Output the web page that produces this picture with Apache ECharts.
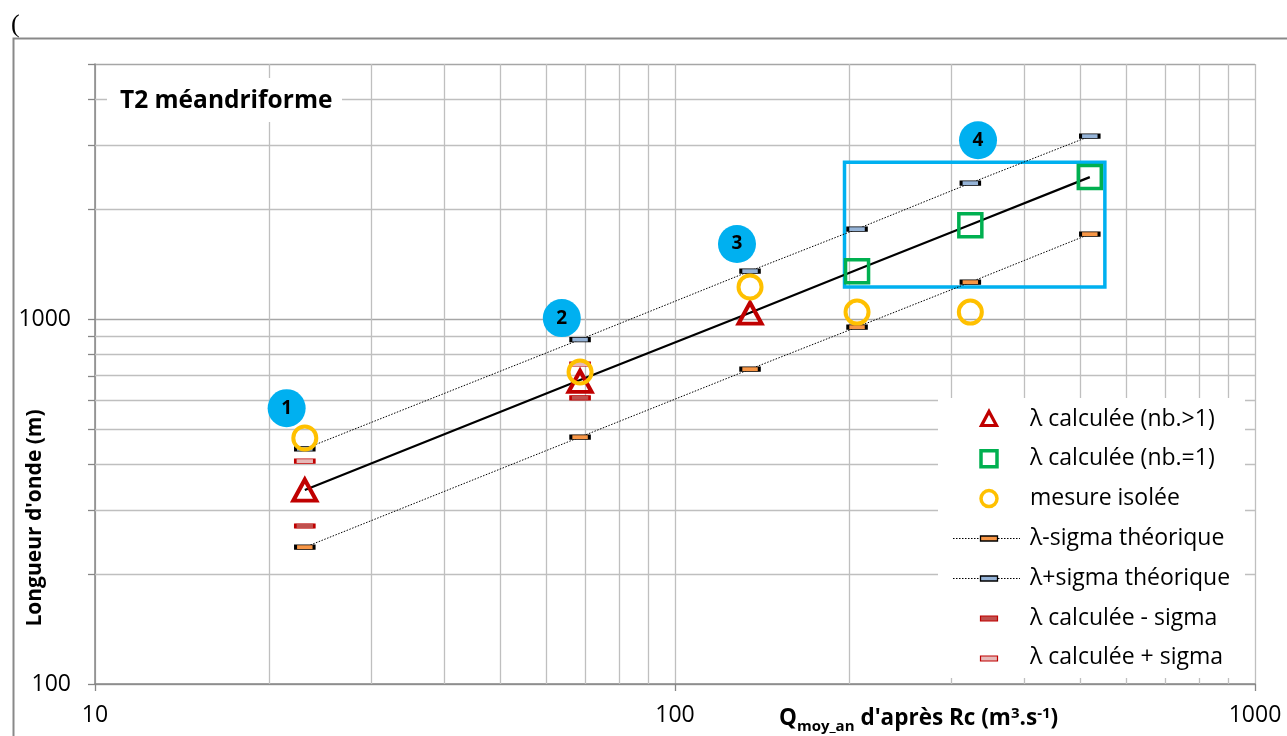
<!DOCTYPE html>
<html>
<head>
<meta charset="utf-8">
<script src="https://cdn.jsdelivr.net/npm/echarts@6/dist/echarts.min.js"></script>
<style>html,body{margin:0;padding:0;background:#fff;}#c{width:1287px;height:736px;}</style>
</head>
<body>
<div id="c"></div>
<script>
// ---------- data ----------
const xPts = [23.0, 68.6, 134.7, 206, 323, 519];
const lambdaFit = [340, 681, 1041, 1365, 1813, 2449];
const lambdaMinusSigmaTh = [237, 475, 729, 951, 1262, 1710];
const lambdaPlusSigmaTh = [441, 879, 1354, 1765, 2358, 3170];
const calcX = [23.0, 68.6];
const calcMinusSigma = [271, 608];
const calcPlusSigma = [408, 753];
const triX = [23.0, 68.6, 134.7];
const triY = [340, 675, 1038];
const sqX = [206, 323, 519];
const sqY = [1353, 1809, 2449];
const circX = [23.0, 68.6, 134.7, 206, 323];
const circY = [472, 716, 1224, 1045, 1045];
const badgeLabels = ['1', '2', '3', '4'];
const badgeX = [21.4, 63.8, 127.9, 333];
const badgeY = [570, 1006, 1606, 3090];
const box4X = [196, 551];
const box4Y = [1224, 2692];
const yMinorGrid = [200, 300, 400, 500, 600, 700, 800, 900, 2000, 3000, 4000];
const xMinorGrid = [20, 30, 40, 50, 60, 70, 80, 90, 200, 300, 400, 500, 600, 700, 800, 900];
const yTickLabels = [100, 1000];
const xTickLabels = [10, 100, 1000];
const legendNames = ['λ calculée (nb.>1)', 'λ calculée (nb.=1)', 'mesure isolée',
  'λ-sigma théorique', 'λ+sigma théorique', 'λ calculée - sigma', 'λ calculée + sigma'];
const titleText = 'T2 méandriforme';
const yName = "Longueur d'onde (m)";

// ---------- chart ----------
const pairs = (xs, ys) => xs.map((x, i) => [x, ys[i]]);
const GRID = '#bfbfbf';
const AXIS = '#868686';
const chart = echarts.init(document.getElementById('c'), null, {renderer: 'canvas'});

const option = {
  animation: false,
  backgroundColor: '#fff',
  grid: {left: 95, top: 64, right: 32, bottom: 52},
  xAxis: {
    type: 'log', logBase: 10, min: 10, max: 1000,
    axisLine: {lineStyle: {color: AXIS, width: 1.5}},
    axisTick: {length: 7, lineStyle: {color: AXIS, width: 1.3}},
    axisLabel: {margin: 20, fontFamily: 'Open Sans', fontSize: 23, color: '#000',
      formatter: v => xTickLabels.includes(Math.round(v)) ? String(Math.round(v)) : ''},
    splitLine: {show: true, lineStyle: {color: GRID, width: 1.3}}
  },
  yAxis: {
    type: 'log', logBase: 10, min: 100, max: 5000,
    axisLine: {lineStyle: {color: AXIS, width: 1.5}},
    axisTick: {length: 7, lineStyle: {color: AXIS, width: 1.3}},
    axisLabel: {margin: 24, fontFamily: 'Open Sans', fontSize: 23, color: '#000',
      formatter: v => yTickLabels.includes(Math.round(v)) ? String(Math.round(v)) : ''},
    splitLine: {show: true, lineStyle: {color: '#a6a6a6', width: 1.3}}
  },
  series: [
    {
      name: 'λ', type: 'line', data: pairs(xPts, lambdaFit), symbol: 'none',
      lineStyle: {color: '#000', width: 2.2}, z: 3, silent: true,
      markLine: {
        silent: true, z: 1, symbol: ['none', 'none'], label: {show: false},
        lineStyle: {color: GRID, width: 1.3, type: 'solid'},
        emphasis: {disabled: true},
        data: yMinorGrid.map(v => ({yAxis: v})).concat(xMinorGrid.map(v => ({xAxis: v})))
      },
      markArea: {
        silent: true, z: 2,
        itemStyle: {color: 'rgba(0,0,0,0)', borderColor: '#00b0f0', borderWidth: 3.5},
        data: [[{coord: [box4X[0], box4Y[1]]}, {coord: [box4X[1], box4Y[0]]}]]
      }
    },
    {
      name: legendNames[3], type: 'line', data: pairs(xPts, lambdaMinusSigmaTh),
      symbol: 'rect', symbolSize: [18.5, 4.5], showSymbol: true, z: 4,
      lineStyle: {color: '#000', width: 1, type: [1.5, 1.5]},
      itemStyle: {color: '#f79646', borderColor: '#000', borderWidth: 1.5, opacity: 1}
    },
    {
      name: legendNames[4], type: 'line', data: pairs(xPts, lambdaPlusSigmaTh),
      symbol: 'rect', symbolSize: [18.5, 4.5], showSymbol: true, z: 4,
      lineStyle: {color: '#000', width: 1, type: [1.5, 1.5]},
      itemStyle: {color: '#95b3d7', borderColor: '#000', borderWidth: 1.5, opacity: 1}
    },
    {
      name: legendNames[5], type: 'scatter', data: pairs(calcX, calcMinusSigma),
      symbol: 'rect', symbolSize: [19, 4.5], z: 5,
      itemStyle: {color: '#c0504d', borderColor: '#c00000', borderWidth: 1.3, opacity: 1}
    },
    {
      name: legendNames[6], type: 'scatter', data: pairs(calcX, calcPlusSigma),
      symbol: 'rect', symbolSize: [19, 4.5], z: 5,
      itemStyle: {color: '#e6b9b8', borderColor: '#c00000', borderWidth: 1.3, opacity: 1}
    },
    {
      name: legendNames[0], type: 'scatter', data: pairs(triX, triY),
      symbol: 'triangle', symbolSize: [23, 21], z: 6,
      itemStyle: {color: 'rgba(0,0,0,0)', borderColor: '#c00000', borderWidth: 4, opacity: 1}
    },
    {
      name: legendNames[1], type: 'scatter', data: pairs(sqX, sqY),
      symbol: 'rect', symbolSize: 23, z: 6,
      itemStyle: {color: 'rgba(0,0,0,0)', borderColor: '#00b050', borderWidth: 3.5, opacity: 1}
    },
    {
      name: legendNames[2], type: 'scatter', data: pairs(circX, circY),
      symbol: 'circle', symbolSize: 23, z: 7,
      itemStyle: {color: 'rgba(0,0,0,0)', borderColor: '#ffc000', borderWidth: 4, opacity: 1}
    },
    {
      name: 'badges', type: 'scatter', data: pairs(badgeX, badgeY),
      symbol: 'circle', symbolSize: 38, z: 8,
      itemStyle: {color: '#00b0f0', opacity: 1},
      label: {show: true, position: 'inside', formatter: p => badgeLabels[p.dataIndex],
        fontFamily: 'Open Sans', fontWeight: 'bold', fontSize: 19, color: '#000'}
    }
  ]
};
chart.setOption(option);

// ---------- decorations (ticks, legend, titles) ----------
const g = [];
const xAxisPx = chart.convertToPixel({xAxisIndex: 0}, 10);
yMinorGrid.forEach(v => {
  const py = Math.round(chart.convertToPixel({yAxisIndex: 0}, v)) + 0.5;
  g.push({type: 'line', z: 50, silent: true,
    shape: {x1: xAxisPx - 7, y1: py, x2: xAxisPx, y2: py},
    style: {stroke: AXIS, lineWidth: 1.3}});
});

// outer frame
g.push({type: 'polyline', z: 50, silent: true,
  shape: {points: [[13.5, 736], [13.5, 38.5], [1287, 38.5]]},
  style: {stroke: '#898989', lineWidth: 2, fill: null}});
g.push({type: 'text', z: 50, silent: true, x: 11, y: 12,
  style: {text: '(', font: '26px "Liberation Serif"', fill: '#000'}});

// chart title box
g.push({type: 'rect', z: 90, silent: true, shape: {x: 107, y: 78, width: 235, height: 44},
  style: {fill: '#fff'}});
g.push({type: 'text', z: 91, silent: true, x: 120, y: 101,
  style: {text: titleText, font: 'bold 24.5px "Open Sans"', fill: '#000', verticalAlign: 'middle'}});

// axis names
g.push({type: 'text', z: 50, silent: true, x: 35, y: 518, rotation: Math.PI / 2,
  style: {text: yName, font: 'bold 21px "Open Sans"', fill: '#000', align: 'center', verticalAlign: 'middle'}});
g.push({type: 'text', z: 50, silent: true, x: 779, y: 719,
  style: {
    text: "{b|Q}{sub|moy_an}{b| d'après Rc (m}{sup|3}{b|.s}{sup|-1}{b|)}",
    verticalAlign: 'middle',
    rich: {
      b: {font: 'bold 22.5px "Open Sans"', fill: '#000', lineHeight: 30, verticalAlign: 'middle'},
      sub: {font: 'bold 15px "Open Sans"', fill: '#000', lineHeight: 15, verticalAlign: 'bottom', padding: [0, 0, 0, 0]},
      sup: {font: 'bold 15px "Open Sans"', fill: '#000', lineHeight: 15, verticalAlign: 'top', padding: [2, 0, 0, 0]}
    }
  }});

// legend
g.push({type: 'rect', z: 90, silent: true, shape: {x: 938, y: 398, width: 307, height: 280},
  style: {fill: '#fff'}});
const rowY = i => 419 + i * 39.8;
const cx = 989;
legendNames.forEach((name, i) => {
  const y = rowY(i);
  g.push({type: 'text', z: 92, silent: true, x: 1030, y: y,
    style: {text: name, font: '23px "Open Sans"', fill: '#000', verticalAlign: 'middle'}});
});
// icons
g.push({type: 'polygon', z: 92, silent: true,
  shape: {points: [[cx, rowY(0) - 7.5], [cx + 7.5, rowY(0) + 6.5], [cx - 7.5, rowY(0) + 6.5]]},
  style: {fill: null, stroke: '#c00000', lineWidth: 3.2}});
g.push({type: 'rect', z: 92, silent: true,
  shape: {x: cx - 8, y: rowY(1) - 8, width: 16, height: 16},
  style: {fill: null, stroke: '#00b050', lineWidth: 3.5}});
g.push({type: 'circle', z: 92, silent: true,
  shape: {cx: cx, cy: rowY(2), r: 8},
  style: {fill: null, stroke: '#ffc000', lineWidth: 3.5}});
[['#f79646', 3], ['#95b3d7', 4]].forEach(([fill, i]) => {
  const y = Math.round(rowY(i)) + 0.5;
  g.push({type: 'line', z: 92, silent: true, shape: {x1: 953, y1: y, x2: 1020, y2: y},
    style: {stroke: '#000', lineWidth: 1, lineDash: [1.5, 1.5]}});
  g.push({type: 'rect', z: 93, silent: true, shape: {x: cx - 8.5, y: y - 2.5, width: 17, height: 5},
    style: {fill: fill, stroke: '#000', lineWidth: 1.3}});
});
[['#c0504d', 5], ['#e6b9b8', 6]].forEach(([fill, i]) => {
  const y = Math.round(rowY(i)) + 0.5;
  g.push({type: 'rect', z: 93, silent: true, shape: {x: cx - 8.5, y: y - 2.5, width: 17, height: 5},
    style: {fill: fill, stroke: '#c00000', lineWidth: 1.2}});
});

chart.setOption({graphic: g});
</script>
</body>
</html>
